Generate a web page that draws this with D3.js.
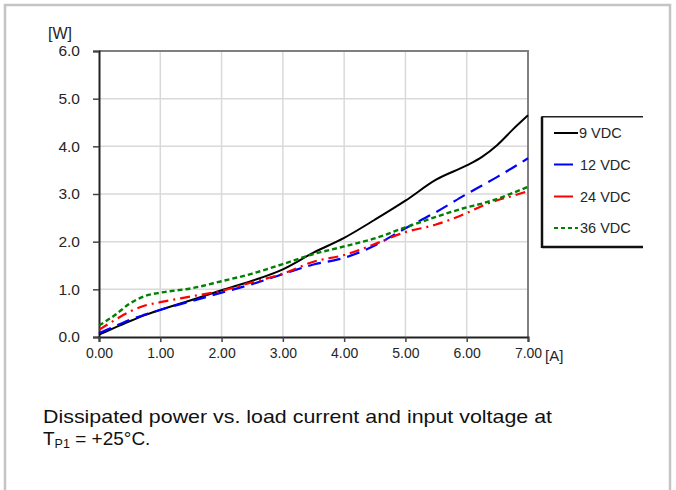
<!DOCTYPE html>
<html><head><meta charset="utf-8">
<script src="https://cdn.jsdelivr.net/npm/d3@7"></script>
<style>
html,body{margin:0;padding:0;background:#fff;}
svg text{font-family:"Liberation Sans",Arial,sans-serif;}
</style></head>
<body><svg id="c" width="676" height="490"></svg>
<script>
// ---- data ----
const current = [0, 0.25, 0.5, 0.75, 1, 1.5, 2, 2.5, 3, 3.5, 4, 4.5, 5, 5.5, 6, 6.25, 6.5, 6.75, 7];
const p9V  = [0.05, 0.19, 0.33, 0.46, 0.57, 0.77, 0.98, 1.18, 1.42, 1.77, 2.08, 2.46, 2.86, 3.30, 3.60, 3.78, 4.03, 4.35, 4.65];
const p12V = [0.08, 0.22, 0.36, 0.47, 0.57, 0.75, 0.93, 1.11, 1.32, 1.52, 1.66, 1.92, 2.28, 2.62, 3.00, 3.18, 3.36, 3.55, 3.75];
const p24V = [0.15, 0.35, 0.53, 0.66, 0.73, 0.85, 0.97, 1.15, 1.33, 1.58, 1.72, 1.95, 2.20, 2.36, 2.60, 2.75, 2.87, 2.96, 3.06];
const p36V = [0.24, 0.45, 0.70, 0.86, 0.93, 1.02, 1.17, 1.33, 1.53, 1.74, 1.90, 2.07, 2.30, 2.52, 2.72, 2.80, 2.90, 3.02, 3.15];
const seriesNames = ["9 VDC", "12 VDC", "24 VDC", "36 VDC"];
const xTicks = [0, 1, 2, 3, 4, 5, 6, 7];
const yTicks = [0, 1, 2, 3, 4, 5, 6];

const styles = [
  {color:"#000000", dash:null, width:2},
  {color:"#0000ff", dash:"13 7", width:2.2},
  {color:"#ff0000", dash:"10 5 2 5", width:2.2},
  {color:"#008000", dash:"5 3", width:2.4}
];
const values = [p9V, p12V, p24V, p36V];

const svg = d3.select("#c");
// outer frame
svg.append("path").attr("d","M5,490 V5 H670 V490").attr("fill","none").attr("stroke","#c4c4c4").attr("stroke-width",2.5);

const x = d3.scaleLinear().domain([0,7]).range([99,528]);
const y = d3.scaleLinear().domain([0,6]).range([337,51]);

// grid
svg.append("g").selectAll("line").data(xTicks.slice(1,-1)).join("line")
  .attr("x1",d=>x(d)).attr("x2",d=>x(d)).attr("y1",y(0)).attr("y2",y(6))
  .attr("stroke","#d9d9d9").attr("stroke-width",1.5);
svg.append("g").selectAll("line").data(yTicks.slice(1,-1)).join("line")
  .attr("x1",x(0)).attr("x2",x(7)).attr("y1",d=>y(d)).attr("y2",d=>y(d))
  .attr("stroke","#d9d9d9").attr("stroke-width",1.5);

// frame top/right
svg.append("path").attr("d",`M${x(0)},${y(6)} H${x(7)} V${y(0)}`).attr("fill","none").attr("stroke","#7f7f7f").attr("stroke-width",2);

// axes
const yAxis = svg.append("g").attr("transform",`translate(${x(0)},0)`)
  .call(d3.axisLeft(y).tickValues(yTicks).tickFormat(d3.format(".1f")).tickSize(6).tickPadding(13));
const xAxis = svg.append("g").attr("transform",`translate(0,${y(0)})`)
  .call(d3.axisBottom(x).tickValues(xTicks).tickFormat(d3.format(".2f")).tickSize(5).tickPadding(6));
[yAxis,xAxis].forEach(g=>{
  g.select(".domain").attr("stroke","#222").attr("stroke-width",2);
  g.selectAll(".tick line").attr("stroke","#444").attr("stroke-width",1.5);
  g.selectAll(".tick text").attr("fill","#262626").attr("font-family",'"Liberation Sans",Arial,sans-serif');
});
yAxis.selectAll(".tick text").attr("font-size",15.5);
xAxis.selectAll(".tick text").attr("font-size",14);

svg.append("text").attr("x",60).attr("y",39).attr("text-anchor","middle").attr("font-size",16).attr("fill","#262626").text("[W]");
svg.append("text").attr("x",545).attr("y",361).attr("font-size",15).attr("fill","#262626").text("[A]");

// lines
const line = d3.line().x((d,i)=>x(current[i])).y(d=>y(d)).curve(d3.curveMonotoneX);
values.forEach((v,k)=>{
  svg.append("path").datum(v).attr("d",line).attr("fill","none")
    .attr("stroke",styles[k].color).attr("stroke-width",styles[k].width)
    .attr("stroke-dasharray",styles[k].dash);
});

// legend
const lg = svg.append("g");
lg.append("path").attr("d","M643,116.7 H542 V246.7 H643").attr("fill","none").attr("stroke","#222").attr("stroke-width",1.5);
lg.append("line").attr("x1",542).attr("x2",643).attr("y1",247).attr("y2",247).attr("stroke","#111").attr("stroke-width",2.5);
lg.append("line").attr("x1",542).attr("x2",542).attr("y1",117).attr("y2",248).attr("stroke","#111").attr("stroke-width",2.5);
const legY = [133, 164.5, 196.5, 228];
const legDash = [null, null, null, "4 3"];
seriesNames.forEach((n,k)=>{
  lg.append("line").attr("x1",554).attr("x2",k===0?578:(k===3?578:573)).attr("y1",legY[k]).attr("y2",legY[k])
    .attr("stroke",styles[k].color).attr("stroke-width",2).attr("stroke-dasharray",legDash[k]);
  lg.append("text").attr("x",k===0?579:580).attr("y",legY[k]+5).attr("font-size",14.5).attr("fill","#262626").text(n);
});

// caption
svg.append("text").attr("x",43).attr("y",423).attr("font-size",19).attr("fill","#111")
  .attr("textLength",509).attr("lengthAdjust","spacingAndGlyphs")
  .text("Dissipated power vs. load current and input voltage at");
const t2 = svg.append("text").attr("x",43).attr("y",445).attr("font-size",19).attr("fill","#111");
t2.append("tspan").text("T");
t2.append("tspan").attr("font-size",12.5).attr("dy",3).text("P1");
t2.append("tspan").attr("dy",-3).text(" = +25°C.");
</script></body></html>
